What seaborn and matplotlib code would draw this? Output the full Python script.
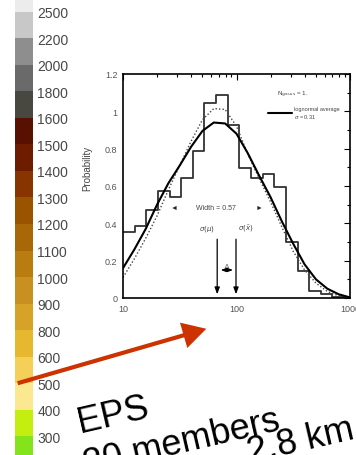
import numpy as np
import seaborn as sns
import matplotlib.pyplot as plt
from matplotlib.colors import ListedColormap
from matplotlib.ticker import MultipleLocator
from matplotlib.patches import FancyArrowPatch

sns.set_style("white")
plt.rcParams["font.family"] = ["Liberation Sans", "DejaVu Sans"]

# colour scale (top band to bottom band) and the labels at the band edges
band_colors = ["#ececec", "#c8c8c8", "#8e8e8e", "#6a6a6a", "#484840", "#581000",
               "#6e1c00", "#883400", "#9a5400", "#a86808", "#b87c10", "#c89020",
               "#d6a228", "#e6b830", "#f4d058", "#fce890", "#c4ee10", "#84e41c"]
band_labels = ["2500", "2200", "2000", "1800", "1600", "1500", "1400", "1300",
               "1200", "1100", "1000", "900", "800", "600", "500", "400", "300"]

# histogram of the inset (log-spaced bins, 10 .. ~890)
hist_vals = [0.351, 0.387, 0.472, 0.574, 0.542, 0.645, 0.788, 1.046, 1.085,
             0.925, 0.699, 0.645, 0.663, 0.592, 0.30, 0.146, 0.04, 0.02, 0.008]

# fitted curves, read every 0.1 decade from 10 to 1000
curve_log10x = [1.0, 1.1, 1.2, 1.3, 1.4, 1.5, 1.6, 1.7, 1.8, 1.9, 2.0,
                2.1, 2.2, 2.3, 2.4, 2.5, 2.6, 2.7, 2.8, 2.9, 3.0]
solid_curve = [0.16, 0.26, 0.37, 0.50, 0.615, 0.71, 0.81, 0.895, 0.94, 0.935, 0.88,
               0.775, 0.655, 0.54, 0.41, 0.29, 0.18, 0.10, 0.05, 0.02, 0.003]
dotted_curve = [0.11, 0.21, 0.32, 0.44, 0.58, 0.71, 0.84, 0.955, 1.015, 1.01, 0.92,
                0.77, 0.64, 0.515, 0.38, 0.25, 0.15, 0.08, 0.035, 0.012, 0.002]

fig = plt.figure(figsize=(3.56, 4.56), dpi=100)

# ---- colour bar on the left ----
cax = fig.add_axes([15 / 356, -7.6 / 456, 18 / 356, 477.2 / 456])
sns.heatmap(np.arange(len(band_colors)).reshape(-1, 1), cmap=ListedColormap(band_colors),
            cbar=False, ax=cax, xticklabels=False, yticklabels=False)
cax.yaxis.tick_right()
cax.set_yticks(np.arange(1, len(band_colors)))
cax.set_yticklabels(band_labels, rotation=0)
cax.tick_params(axis="y", length=0, pad=3, labelsize=10, labelcolor="#484848")

# ---- inset: probability plot ----
ax = fig.add_axes([123 / 356, 157 / 456, 227 / 356, 224 / 456])
ax.set_xscale("log")

edges = np.logspace(1, 1 + 0.1025 * len(hist_vals), len(hist_vals) + 1)
sns.lineplot(x=edges, y=hist_vals + [hist_vals[-1]], drawstyle="steps-post",
             estimator=None, color="#333333", lw=1.3, ax=ax)

curve_x = 10 ** np.array(curve_log10x)
sns.lineplot(x=curve_x, y=dotted_curve, estimator=None, color="#444444", lw=1.0,
             linestyle=(0, (1, 1.5)), ax=ax)
sns.lineplot(x=curve_x, y=solid_curve, estimator=None, color="black", lw=1.5,
             label="lognormal average\n$\\sigma$ = 0.31", ax=ax)

ax.set_xlim(10, 1000)
ax.set_ylim(0, 1.2)
ax.set_xticks([10, 100, 1000])
ax.set_xticklabels(["10", "100", "1000"])
ax.set_yticks([0, 0.2, 0.4, 0.6, 0.8, 1.0, 1.2])
ax.set_yticklabels(["0", "0.2", "0.4", "0.6", "0.8", "1", "1.2"])
ax.yaxis.set_minor_locator(MultipleLocator(0.1))
ax.tick_params(which="both", direction="in", top=True, right=True,
               labelsize=6.5, labelcolor="#555555", color="black", width=0.8)
ax.tick_params(which="major", length=4, pad=4)
ax.tick_params(which="minor", length=2)
for s in ax.spines.values():
    s.set_color("black")
    s.set_linewidth(1.2)
ax.set_ylabel("Probability", fontsize=7, color="#444444", labelpad=3)
ax.yaxis.set_label_coords(-0.135, 0.585)

leg = ax.legend(loc="upper left", bbox_to_anchor=(0.638, 0.857), frameon=False,
                fontsize=4, handlelength=4.3, handletextpad=0.36,
                borderpad=0, borderaxespad=0)
for t in leg.get_texts():
    t.set_color("#444444")
ax.text(0.679, 0.911, "N$_{\\rm gauss}$ = 1.", transform=ax.transAxes,
        fontsize=4.5, color="#444444", ha="left", va="center")

# width annotation
ax.text(66, 0.485, "Width = 0.57", fontsize=5, color="#444444", ha="center", va="center")
ax.text(28, 0.485, "\u25c4", fontsize=5, color="#222222", ha="center", va="center")
ax.text(157, 0.485, "\u25ba", fontsize=5, color="#222222", ha="center", va="center")

# the two vertical arrows and the offset between them
for xa in [67.6, 99]:
    ax.annotate("", xy=(xa, 0.005), xytext=(xa, 0.33),
                arrowprops=dict(arrowstyle="-|>,head_length=0.4,head_width=0.15",
                                color="black", lw=0.9))
ax.text(65, 0.35, "$\\sigma(\\mu)$", fontsize=5, color="#444444", ha="right", va="bottom")
ax.text(103, 0.35, "$\\sigma(\\bar{x})$", fontsize=5, color="#444444", ha="left", va="bottom")
ax.annotate("", xy=(69, 0.15), xytext=(98, 0.15),
            arrowprops=dict(arrowstyle="<|-|>,head_length=0.3,head_width=0.12",
                            color="black", lw=0.7))
ax.text(82, 0.16, "\u0394", fontsize=4.5, color="#444444", ha="center", va="bottom")

# ---- big orange arrow from the colour bar to the inset ----
arrow = FancyArrowPatch(posA=(15 / 356, 1 - 385 / 456), posB=(209 / 356, 1 - 329 / 456),
                        transform=fig.transFigure, color="#cc3300", lw=0,
                        arrowstyle="simple,head_length=1.7,head_width=1.9,tail_width=0.3",
                        mutation_scale=10)
fig.add_artist(arrow)

# ---- rotated caption ----
px = lambda x, y: (x / 356, 1 - y / 456)
fig.text(*px(80, 433), "EPS", fontsize=26, rotation=13, rotation_mode="anchor",
         ha="left", va="baseline", color="black")
fig.text(*px(86, 475), "20 members", fontsize=26, rotation=13, rotation_mode="anchor",
         ha="left", va="baseline", color="black")
fig.text(*px(250, 463), "2.8 km", fontsize=26, rotation=13, rotation_mode="anchor",
         ha="left", va="baseline", color="black")

fig.savefig("out.png", dpi=100)
